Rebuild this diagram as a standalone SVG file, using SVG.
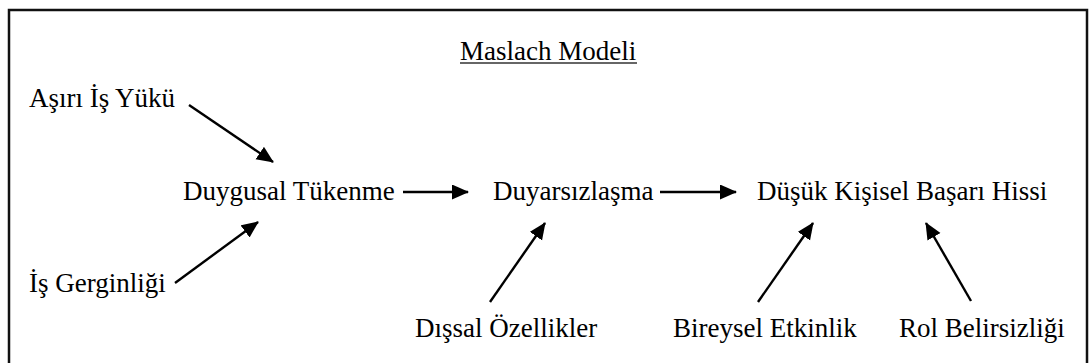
<svg xmlns="http://www.w3.org/2000/svg" width="1089" height="363" viewBox="0 0 1089 363">
<style>
text { font-family: 'Liberation Serif', 'Times New Roman', serif; font-size: 27px; fill: #000; }
.c { stroke: #000; stroke-width: 2.4; fill: none; marker-end: url(#ah); }
</style>
<defs>
<marker id="ah" markerUnits="userSpaceOnUse" markerWidth="18" markerHeight="16" refX="16" refY="7.5" orient="auto">
<path d="M0,0 L17,7.5 L0,15 z" fill="#000"/>
</marker>
</defs>
<rect x="9" y="10" width="1078" height="400" fill="#fff" stroke="#111" stroke-width="2.5"/>
<g id="title"><text x="460" y="60">Maslach Modeli</text><line x1="460" y1="63" x2="637" y2="63" stroke="#333" stroke-width="1.3"/></g>
<g id="asiri"><text x="29" y="107">Aşırı İş Yükü</text></g>
<g id="gerginlik"><text x="29" y="292">İş Gerginliği</text></g>
<g id="tukenme"><text x="183" y="200">Duygusal Tükenme</text></g>
<g id="duyarsiz"><text x="493" y="200">Duyarsızlaşma</text></g>
<g id="basari"><text x="757" y="200">Düşük Kişisel Başarı Hissi</text></g>
<g id="dissal"><text x="415" y="337">Dışsal Özellikler</text></g>
<g id="bireysel"><text x="673" y="337">Bireysel Etkinlik</text></g>
<g id="rol"><text x="899" y="337">Rol Belirsizliği</text></g>
<g id="connectors">
<line class="c" x1="189" y1="105" x2="273" y2="162"/>
<line class="c" x1="175" y1="283" x2="258" y2="222"/>
<line class="c" x1="403" y1="192" x2="468" y2="192"/>
<line class="c" x1="660" y1="192" x2="736" y2="192"/>
<line class="c" x1="490" y1="302" x2="545" y2="223"/>
<line class="c" x1="758" y1="302" x2="813" y2="223"/>
<line class="c" x1="971" y1="301" x2="926" y2="223"/>
</g>
</svg>
